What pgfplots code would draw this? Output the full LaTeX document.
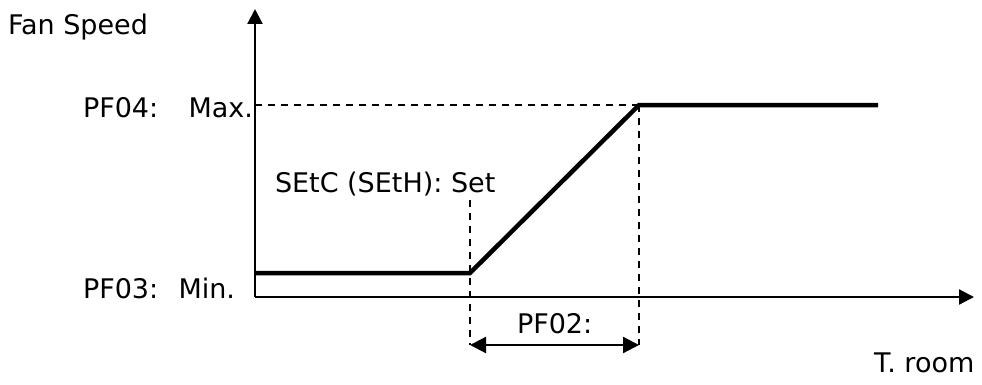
\documentclass[border=0pt]{standalone}
\usepackage{pgfplots}
\pgfplotsset{compat=1.18}
\usetikzlibrary{arrows.meta}
\usepackage{fontspec}
\setmainfont{DejaVu Sans}
\newcommand{\bigf}{\fontsize{27bp}{31bp}\selectfont}
\tikzset{lbl/.style={anchor=base west, inner sep=0pt, outer sep=0pt},
         lble/.style={anchor=base east, inner sep=0pt, outer sep=0pt}}
\begin{document}
\begin{tikzpicture}
\begin{axis}[
  scale only axis, width=982bp, height=385bp,
  xmin=0, xmax=982, ymin=0, ymax=385, y dir=reverse,
  hide axis, clip=false
]
% frame for bounding box
\path (axis cs:0,0) rectangle (axis cs:982,385);
% axes
\addplot[black, line width=2.2bp, -{Triangle[length=15bp,width=15bp]}] coordinates {(255,297) (255,9)};
\addplot[black, line width=2.2bp, -{Triangle[length=15bp,width=15bp]}] coordinates {(255,297) (974,297)};
% dashed helpers
\addplot[black, line width=1.8bp, dash pattern=on 7bp off 6bp] coordinates {(255,105) (639,105)};
\addplot[black, line width=1.8bp, dash pattern=on 7bp off 6bp] coordinates {(639,105) (639,345)};
\addplot[black, line width=1.8bp, dash pattern=on 7bp off 6bp] coordinates {(470,200) (470,345)};
% dimension arrow
\addplot[black, line width=2.2bp, {Triangle[length=16bp,width=16bp]}-{Triangle[length=16bp,width=16bp]}] coordinates {(470,345) (639,345)};
% fan speed curve
\addplot[black, line width=4.5bp, line join=miter] coordinates {(255,273) (470,273) (639,105) (878,105)};
% labels
\node[lbl] at (axis cs:8,34) {\bigf Fan Speed};
\node[lbl] at (axis cs:83,117) {\bigf PF04:};
\node[lble] at (axis cs:253,117) {\bigf Max.};
\node[lbl] at (axis cs:275,192) {\bigf SEtC (SEtH): Set};
\node[lbl] at (axis cs:83,298) {\bigf PF03:};
\node[lble] at (axis cs:235,298) {\bigf Min.};
\node[lbl] at (axis cs:517,333) {\bigf PF02:};
\node[lbl] at (axis cs:874,372) {\bigf T. room};
\end{axis}
\end{tikzpicture}
\end{document}
